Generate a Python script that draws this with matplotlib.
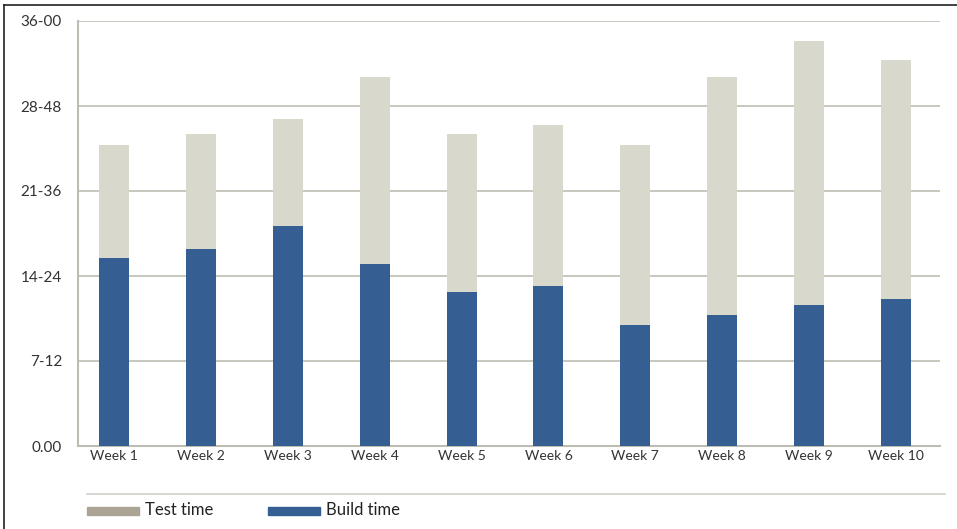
import matplotlib
matplotlib.use("Agg")
import matplotlib.pyplot as plt
from matplotlib.patches import Rectangle
from matplotlib.lines import Line2D
import numpy as np

plt.rcParams['font.family'] = ['Lato', 'DejaVu Sans']

weeks = ["Week 1", "Week 2", "Week 3", "Week 4", "Week 5",
         "Week 6", "Week 7", "Week 8", "Week 9", "Week 10"]
build_time = [15.92, 16.69, 18.63, 15.42, 13.04, 13.55, 10.25, 11.10, 11.94, 12.45]
total_time = [25.50, 26.43, 27.70, 31.26, 26.43, 27.19, 25.50, 31.26, 34.30, 32.70]
test_time = [t - b for t, b in zip(total_time, build_time)]
yticks = [0, 7.2, 14.4, 21.6, 28.8, 36.0]
ytick_labels = ["0.00", "7-12", "14-24", "21-36", "28-48", "36-00"]

build_color = "#355e93"
test_color = "#d8d8cd"
test_legend_color = "#aba494"
grid_color = "#bdbdb3"

W, H = 957, 529
fig = plt.figure(figsize=(W / 100, H / 100), dpi=100)
ax = fig.add_axes([78 / W, 1 - 446 / H, (940 - 78) / W, (446 - 21) / H])

x = np.arange(len(weeks))
bw = 0.345
ax.bar(x, build_time, width=bw, color=build_color, zorder=3)
ax.bar(x, test_time, width=bw, bottom=build_time, color=test_color, zorder=3)

ax.set_xlim(-0.414, 9.506)
ax.set_ylim(0, 36)
ax.set_yticks(yticks)
ax.set_yticklabels(ytick_labels)
ax.set_xticks(x)
ax.set_xticklabels(weeks)
ax.tick_params(axis='both', length=0, colors="#333333")
ax.tick_params(axis='x', labelsize=10, pad=3)
ax.tick_params(axis='y', labelsize=11, pad=11.5)
ax.yaxis.grid(True, color=grid_color, linewidth=1.2, zorder=0)
ax.set_axisbelow(True)
for s in ['top', 'right']:
    ax.spines[s].set_visible(False)
for s in ['left', 'bottom']:
    ax.spines[s].set_color(grid_color)
    ax.spines[s].set_linewidth(1.5)

# outer frame (top and left)
fig.add_artist(Line2D([3.5 / W, 3.5 / W], [0, 1 - 5 / H], color="#222222", linewidth=1.2, transform=fig.transFigure))
fig.add_artist(Line2D([3.5 / W, 1], [1 - 5 / H, 1 - 5 / H], color="#222222", linewidth=1.2, transform=fig.transFigure))

# legend separator
fig.add_artist(Line2D([87 / W, 945 / W], [1 - 494 / H, 1 - 494 / H], color="#d0d0c8", linewidth=1.2, transform=fig.transFigure))

# legend entries
legend_items = [("Test time", test_legend_color, 87), ("Build time", build_color, 268)]
for label, col, px in legend_items:
    fig.add_artist(Rectangle((px / W, 1 - 515 / H), 52 / W, 8 / H, color=col, transform=fig.transFigure))
    fig.text((px + 58) / W, 1 - 510 / H, label, fontsize=12, color="#222222", va='center', ha='left')

fig.savefig("out.png", dpi=100)
